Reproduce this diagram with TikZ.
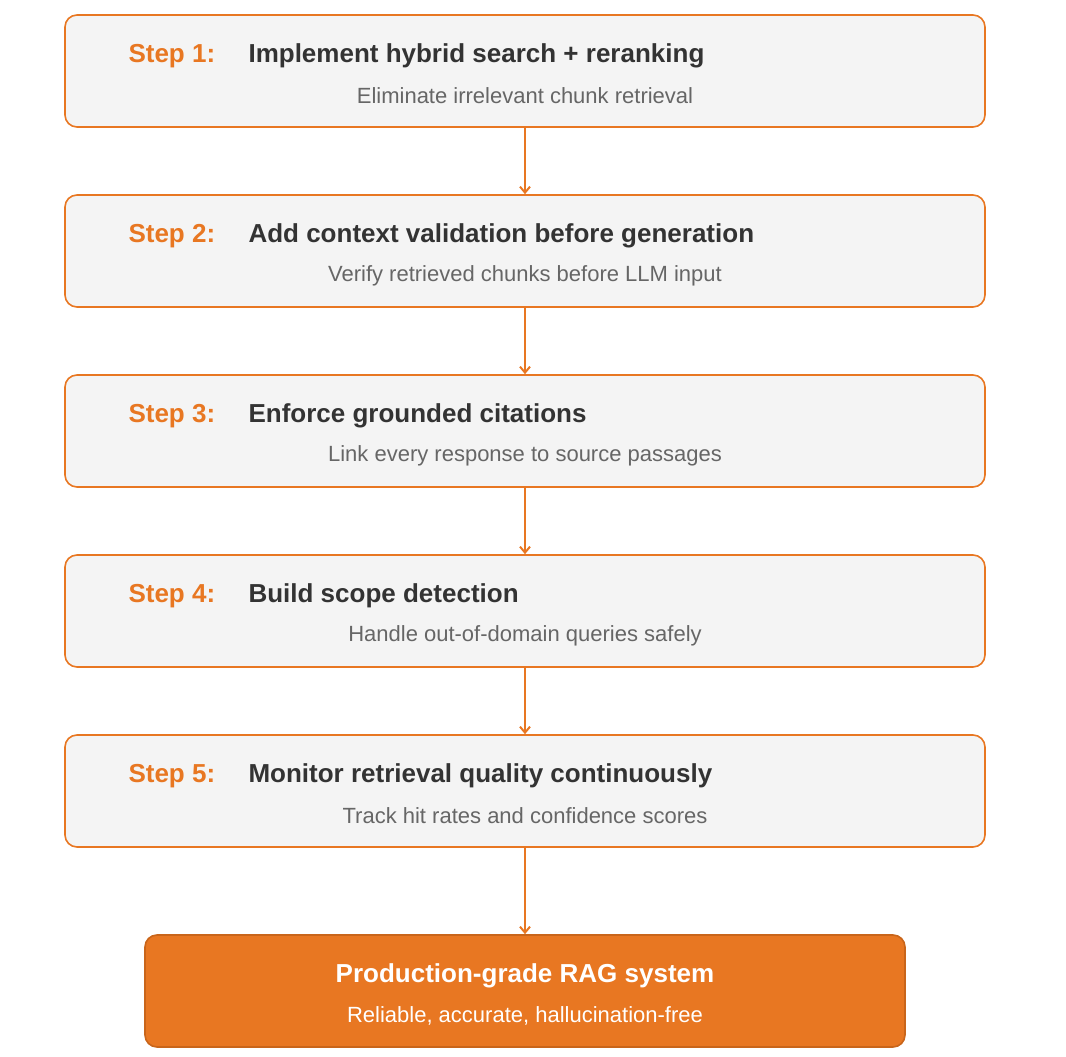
\documentclass[tikz,border=0pt]{standalone}
\usepackage{fontspec}
\setmainfont{Liberation Sans}
\usetikzlibrary{positioning,arrows.meta}
\definecolor{ragorange}{HTML}{E87722}
\definecolor{ragdark}{HTML}{C9651A}
\definecolor{boxgray}{HTML}{F4F4F4}
\definecolor{titlegray}{HTML}{333333}
\definecolor{subgray}{HTML}{666666}
\tikzset{
  stepbox/.style={draw=ragorange, line width=1.6pt, fill=boxgray, rounded corners=12pt,
    minimum width=920pt, minimum height=112pt, inner sep=0pt},
  finalbox/.style={draw=ragdark, line width=1.6pt, fill=ragorange, rounded corners=12pt,
    minimum width=760pt, minimum height=112pt, inner sep=0pt},
  steplabel/.style={anchor=west, text=ragorange, font=\fontsize{26}{30}\selectfont\bfseries},
  steptitle/.style={anchor=west, text=titlegray, font=\fontsize{26}{30}\selectfont\bfseries},
  stepsub/.style={text=subgray, font=\fontsize{22}{26}\selectfont},
  flow/.style={draw=ragorange, line width=2pt, ->, >={Straight Barb[length=6pt,width=10pt]}}
}
\begin{document}
\begin{tikzpicture}[x=1pt,y=-1pt]
\useasboundingbox (0,0) rectangle (1066,1057);

% step boxes
\foreach \i/\title/\sub in {
  1/Implement hybrid search + reranking/Eliminate irrelevant chunk retrieval,
  2/Add context validation before generation/Verify retrieved chunks before LLM input,
  3/Enforce grounded citations/Link every response to source passages,
  4/Build scope detection/Handle out-of-domain queries safely,
  5/Monitor retrieval quality continuously/Track hit rates and confidence scores}
{
  \node[stepbox] (box\i) at (525, {71+180*(\i-1)}) {};
  \node[steplabel] (lab\i) at (125, {56+180*(\i-1)}) {Step \i:};
  \node[steptitle] (tit\i) at (245, {56+180*(\i-1)}) {\title};
  \node[stepsub] (sub\i) at (525, {96+180*(\i-1)}) {\sub};
}

% final box
\node[finalbox] (final) at (525, 991) {};
\node[text=white, font=\fontsize{26}{30}\selectfont\bfseries] (fintit) at (525, 976) {Production-grade RAG system};
\node[text=white, font=\fontsize{22}{26}\selectfont] (finsub) at (525, 1016) {Reliable, accurate, hallucination-free};

% arrows
\foreach \a/\b in {box1/box2, box2/box3, box3/box4, box4/box5, box5/final}
  \draw[flow] (\a.south) -- (\b.north);

\end{tikzpicture}
\end{document}
